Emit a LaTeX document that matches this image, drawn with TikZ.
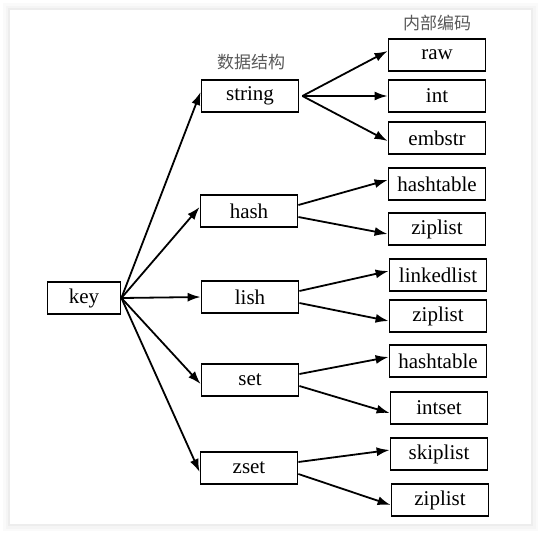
\documentclass[tikz,border=0pt]{standalone}
\usepackage{fontspec}
\setmainfont{Liberation Serif}
\newfontfamily\cjkfont{Noto Sans CJK SC}
\usepackage{xcolor}
\usetikzlibrary{arrows.meta}

\tikzset{
  box/.style={draw, line width=1.8pt, minimum width=97pt, minimum height=32pt, inner sep=0pt, font=\rmfamily\fontsize{21}{23}\selectfont},
  arr/.style={-{Latex[length=13pt,width=9pt]}, line width=1.8pt},
  head/.style={font=\cjkfont\fontsize{17}{20}\selectfont, text=black!65}
}

\begin{document}
\begin{tikzpicture}[x=1pt, y=-1pt]
  \useasboundingbox (0,0) rectangle (543,536);
  % card with a soft shadow
  \foreach \w/\c in {14/black!2, 9/black!4, 4/black!7}
    \draw[line width=\w pt, \c] (10,10) rectangle (531,524);
  \fill[white] (10,10) rectangle (531,524);

  % Labels for columns
  \node[head] (hds) at (251,62) {数据结构};
  \node[head] (hdc) at (437,23) {内部编码};

  % key on the left
  \node[box, minimum width=73pt] (key) at (84,298) {key};

  % data structures
  \node[box] (string) at (250,96) {string};
  \node[box] (hash) at (249,211) {hash};
  \node[box] (lish) at (250,297) {lish};
  \node[box] (set) at (250,380) {set};
  \node[box] (zset) at (249,468) {zset};

  % encodings on the right
  \node[box] (raw) at (437,55) {raw};
  \node[box] (int) at (437,96) {int};
  \node[box] (embstr) at (437,138) {embstr};
  \node[box] (hta) at (437,184) {hashtable};
  \node[box] (zla) at (437,229) {ziplist};
  \node[box] (lkl) at (438,275) {linkedlist};
  \node[box] (zlb) at (438,316) {ziplist};
  \node[box] (htb) at (438,361) {hashtable};
  \node[box] (ins) at (439,408) {intset};
  \node[box] (skl) at (439,454) {skiplist};
  \node[box] (zlc) at (440,500) {ziplist};

  % key to data structures
  \foreach \t/\s in {string/4, hash/4, lish/0, set/-4, zset/-4}
    \draw[arr] (key.east) -- ([yshift=\s pt]\t.west);

  % string to its encodings
  \foreach \t/\s in {raw/4, int/0, embstr/-3}
    \draw[arr] ([xshift=3pt]string.east) -- ([yshift=\s pt]\t.west);

  % the others have two encodings each
  \foreach \s/\u/\l in {hash/hta/zla, lish/lkl/zlb, set/htb/ins, zset/skl/zlc}{
    \draw[arr] ([yshift=6pt]\s.east) -- ([yshift=4pt]\u.west);
    \draw[arr] ([yshift=-6pt]\s.east) -- ([yshift=-5pt]\l.west);
  }
\end{tikzpicture}
\end{document}
